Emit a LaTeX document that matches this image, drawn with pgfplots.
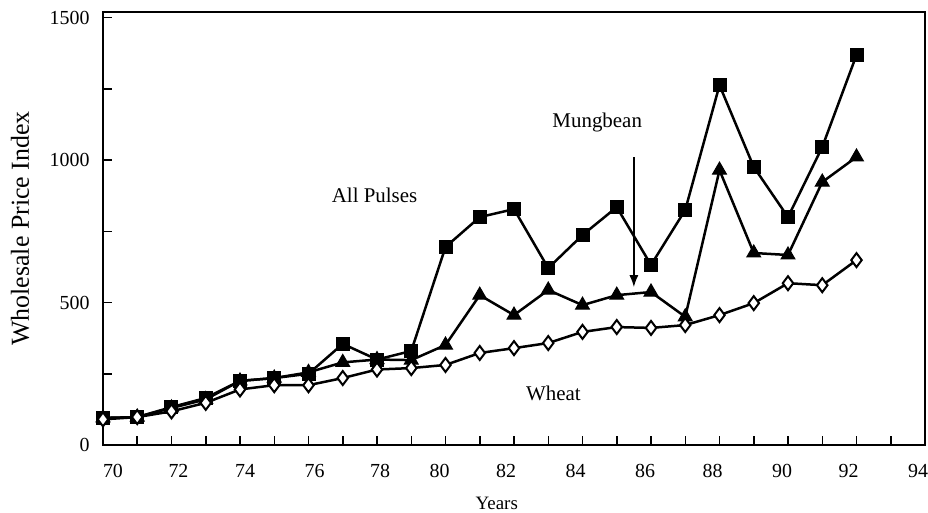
\documentclass[border=0pt]{standalone}
\usepackage{fontspec}
\setmainfont{Liberation Serif}
\usepackage{pgfplots}
\pgfplotsset{compat=1.18}
\usetikzlibrary{arrows.meta}
\begin{document}
\begin{tikzpicture}
\begin{axis}[
  scale only axis, width=822bp, height=433bp,
  xmin=70, xmax=94, ymin=0, ymax=1520,
  xtick={70,72,...,94}, minor xtick={71,73,...,93},
  xticklabels={\hspace*{20bp}70,\hspace*{14bp}72,\hspace*{10bp}74,\hspace*{12bp}76,\hspace*{6bp}78,
    80\hspace*{12bp},82\hspace*{16bp},84\hspace*{14bp},86\hspace*{12bp},88\hspace*{14bp},
    90\hspace*{12bp},92\hspace*{16bp},94\hspace*{14bp}},
  ytick={0,500,1000,1500}, minor ytick={250,750,1250},
  xtick pos=bottom, ytick pos=left,
  tick align=inside,
  major tick length=9bp, minor tick length=9bp,
  tick style={line width=1.5bp, black},
  axis line style={line width=1.8bp},
  ticklabel style={font=\fontsize{20}{22}\selectfont},
  xticklabel style={yshift=-16bp},
  yticklabel style={xshift=-10bp},
  /pgf/number format/assume math mode=true,
  /pgf/number format/1000 sep={},
  xlabel={Years}, ylabel={Wholesale Price Index},
  xlabel style={font=\fontsize{19}{21}\selectfont, at={(axis description cs:0.479,-0.134)}, anchor=center},
  ylabel style={font=\fontsize{26}{28}\selectfont, at={(axis description cs:-0.101,0.5)}, anchor=center},
  clip=false,
]
\coordinate (O) at (rel axis cs:0,0);
% All Pulses
\addplot[black, line width=2.5bp, mark=square*, mark size=6.5bp, mark options={fill=black, line width=1bp}] coordinates {
(70,95) (71,98) (72,133) (73,165) (74,225) (75,235) (76,250) (77,355) (78,300) (79,330)
(80,695) (81,800) (82,828) (83,621) (84,737) (85,835) (86,632) (87,825) (88,1263)
(89,976) (90,800) (91,1046) (92,1369)};
% Mungbean
\addplot[black, line width=2.5bp, mark=triangle*, mark size=8bp, mark options={fill=black, line width=1bp}] coordinates {
(70,95) (71,98) (72,130) (73,160) (74,225) (75,235) (76,255) (77,290) (78,300) (79,298)
(80,351) (81,526) (82,456) (83,544) (84,491) (85,526) (86,537) (87,450) (88,965)
(89,674) (90,667) (91,923) (92,1011)};
% Wheat
\addplot[black, line width=2.5bp, mark=diamond*, mark size=7bp, mark options={fill=white, line width=2bp}] coordinates {
(70,90) (71,98) (72,118) (73,148) (74,195) (75,210) (76,210) (77,235) (78,265) (79,270)
(80,281) (81,323) (82,340) (83,358) (84,397) (85,414) (86,411) (87,421) (88,456)
(89,498) (90,568) (91,561) (92,649)};
\node[font=\fontsize{21}{23}\selectfont] at (axis cs:77.93,877) {All Pulses};
\node[font=\fontsize{21}{23}\selectfont] at (axis cs:84.43,1133) {Mungbean};
\node[font=\fontsize{21}{23}\selectfont] at (axis cs:83.15,182) {Wheat};
\draw[line width=1.5bp, -{Latex[length=12bp,width=9bp]}] (axis cs:85.5,1010) -- (axis cs:85.5,554);
\end{axis}
\pgfresetboundingbox
\path (O) ++(-103bp,-68bp) rectangle ++(928bp,513bp);
\end{tikzpicture}
\end{document}
